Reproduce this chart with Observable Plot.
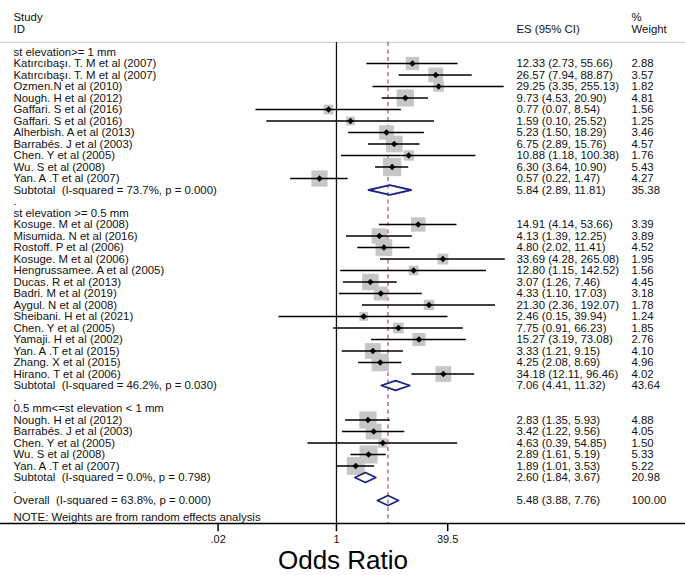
<!DOCTYPE html>
<html><head><meta charset="utf-8">
<script src="https://cdn.jsdelivr.net/npm/d3@7"></script>
<script src="https://cdn.jsdelivr.net/npm/@observablehq/plot@0.6"></script>
<style>body{margin:0;background:#fff} svg{display:block}</style>
</head><body><div id="chart"></div>
<script>
// ---- data ----
const groupTitles = ["st elevation>= 1 mm", "st elevation >= 0.5 mm", "0.5 mm<=st elevation < 1 mm"];

const studies1 = ["Katırcıbaşı. T. M et al (2007)", "Katırcıbaşı. T. M et al (2007)", "Ozmen.N et al (2010)", "Nough. H et al (2012)", "Gaffari. S et al (2016)", "Gaffari. S et al (2016)", "Alherbish. A et al (2013)", "Barrabés. J et al (2003)", "Chen. Y et al (2005)", "Wu. S et al (2008)", "Yan. A .T et al (2007)"];
const es1 = [12.33, 26.57, 29.25, 9.73, 0.77, 1.59, 5.23, 6.75, 10.88, 6.30, 0.57];
const lo1 = [2.73, 7.94, 3.35, 4.53, 0.07, 0.10, 1.50, 2.89, 1.18, 3.64, 0.22];
const hi1 = [55.66, 88.87, 255.13, 20.90, 8.54, 25.52, 18.29, 15.76, 100.38, 10.90, 1.47];
const w1 = [2.88, 3.57, 1.82, 4.81, 1.56, 1.25, 3.46, 4.57, 1.76, 5.43, 4.27];

const studies2 = ["Kosuge. M et al (2008)", "Misumida. N et al (2016)", "Rostoff. P et al (2006)", "Kosuge. M et al (2006)", "Hengrussamee. A et al (2005)", "Ducas. R et al (2013)", "Badri. M et al (2019)", "Aygul. N et al (2008)", "Sheibani. H et al (2021)", "Chen. Y et al (2005)", "Yamaji. H et al (2002)", "Yan. A .T et al (2015)", "Zhang. X et al (2015)", "Hirano. T et al (2006)"];
const es2 = [14.91, 4.13, 4.80, 33.69, 12.80, 3.07, 4.33, 21.30, 2.46, 7.75, 15.27, 3.33, 4.25, 34.18];
const lo2 = [4.14, 1.39, 2.02, 4.28, 1.15, 1.26, 1.10, 2.36, 0.15, 0.91, 3.19, 1.21, 2.08, 12.11];
const hi2 = [53.66, 12.25, 11.41, 265.08, 142.52, 7.46, 17.03, 192.07, 39.94, 66.23, 73.08, 9.15, 8.69, 96.46];
const w2 = [3.39, 3.89, 4.52, 1.95, 1.56, 4.45, 3.18, 1.78, 1.24, 1.85, 2.76, 4.10, 4.96, 4.02];

const studies3 = ["Nough. H et al (2012)", "Barrabés. J et al (2003)", "Chen. Y et al (2005)", "Wu. S et al (2008)", "Yan. A .T et al (2007)"];
const es3 = [2.83, 3.42, 4.63, 2.89, 1.89];
const lo3 = [1.35, 1.22, 0.39, 1.61, 1.01];
const hi3 = [5.93, 9.56, 54.85, 5.19, 3.53];
const w3 = [4.88, 4.05, 1.50, 5.33, 5.22];

const subtotalLabels = ["Subtotal\u00a0 (I-squared = 73.7%, p = 0.000)", "Subtotal\u00a0 (I-squared = 46.2%, p = 0.030)", "Subtotal\u00a0 (I-squared = 0.0%, p = 0.798)"];
const subtotalES = [5.84, 7.06, 2.60];
const subtotalLo = [2.89, 4.41, 1.84];
const subtotalHi = [11.81, 11.32, 3.67];
const subtotalW = [35.38, 43.64, 20.98];

const overallLabel = "Overall\u00a0 (I-squared = 63.8%, p = 0.000)";
const overallES = 5.48, overallLo = 3.88, overallHi = 7.76, overallW = 100.00;

const xTicks = [0.02, 1, 39.5];
const xTickLabels = [".02", "1", "39.5"];
const axisTitle = "Odds Ratio";
const headerStudy = ["Study", "ID"];
const headerES = "ES (95% CI)";
const headerWeight = ["%", "Weight"];
const noteText = "NOTE: Weights are from random effects analysis";

// ---- table construction ----
const groups = [
  {names: studies1, es: es1, lo: lo1, hi: hi1, w: w1},
  {names: studies2, es: es2, lo: lo2, hi: hi2, w: w2},
  {names: studies3, es: es3, lo: lo3, hi: hi3, w: w3}
];
const labelRows = [], studyRows = [], pooledRows = [];
let r = 0;
groups.forEach((g, gi) => {
  labelRows.push({row: r++, label: groupTitles[gi]});
  g.names.forEach((n, i) => {
    const d = {row: r++, label: n, es: g.es[i], lo: g.lo[i], hi: g.hi[i], w: g.w[i]};
    studyRows.push(d); labelRows.push(d);
  });
  const s = {row: r++, label: subtotalLabels[gi], es: subtotalES[gi], lo: subtotalLo[gi], hi: subtotalHi[gi], w: subtotalW[gi]};
  pooledRows.push(s); labelRows.push(s);
  labelRows.push({row: r++, label: "."});
});
const ov = {row: r, label: overallLabel, es: overallES, lo: overallLo, hi: overallHi, w: overallW};
pooledRows.push(ov); labelRows.push(ov);
const lastRow = r;

const numRows = studyRows.concat(pooledRows).map(d => ({
  row: d.row,
  esText: `${d.es.toFixed(2)} (${d.lo.toFixed(2)}, ${d.hi.toFixed(2)})`,
  wText: d.w.toFixed(2)
}));

const dh = 0.43;
const diamonds = pooledRows.flatMap((d, i) => [
  {id: i, x: d.lo, y: d.row}, {id: i, x: d.es, y: d.row - dh},
  {id: i, x: d.hi, y: d.row}, {id: i, x: d.es, y: d.row + dh},
  {id: i, x: d.lo, y: d.row}
]);

const tickData = xTicks.map((v, i) => ({v, label: xTickLabels[i]}));

// layout rows (in row units)
const studyHdrRow = -3, idHdrRow = -1.98, ruleRow = -0.83, noteRow = lastRow + 1.45, axisRow = lastRow + 2;
const fontFam = "Liberation Sans, Arial, Helvetica, sans-serif";
const fs = 11.4;
const xText = 13, xES = 516, xW = 631;

const chart = Plot.plot({
  width: 685, height: 575,
  marginLeft: 0, marginRight: 0, marginTop: 0, marginBottom: 52,
  style: {fontFamily: fontFam, background: "#fff", color: "#111"},
  x: {type: "log", domain: [xTicks[0], xTicks[2]], range: [217.6, 447.2], axis: null},
  y: {domain: [0, lastRow], range: [51.5, 500], axis: null},
  r: {type: "sqrt", domain: [0, d3.max(studyRows, d => d.w)], range: [0, 10.3]},
  marks: [
    Plot.ruleY([ruleRow], {stroke: "#dcd0d4", strokeWidth: 1.2}),
    Plot.ruleX([1], {y1: ruleRow, y2: axisRow, stroke: "#111", strokeWidth: 1.3}),
    Plot.ruleX([overallES], {y1: ruleRow, y2: axisRow, stroke: "#b53a44", strokeWidth: 1.1, strokeDasharray: "4,3.5"}),
    Plot.dot(studyRows, {x: "es", y: "row", r: "w", symbol: "square", fill: "#c6c6c6", stroke: "none"}),
    Plot.ruleY(studyRows, {x1: "lo", x2: "hi", y: "row", stroke: "#000", strokeWidth: 1.6}),
    Plot.dot(studyRows, {x: "es", y: "row", r: 2.9, symbol: "diamond2", fill: "#000", stroke: "none"}),
    Plot.line(diamonds, {x: "x", y: "y", z: "id", stroke: "#1c2585", strokeWidth: 1.8, curve: "linear"}),
    Plot.ruleY([axisRow], {stroke: "#000", strokeWidth: 1.5}),
    Plot.ruleX(tickData, {x: "v", y1: axisRow, y2: axisRow + 0.72, stroke: "#000", strokeWidth: 1.5}),
    Plot.text(tickData, {x: "v", y: () => axisRow + 1.42, text: "label", fontSize: 11, lineAnchor: "middle"}),
    // left column
    Plot.text(labelRows, {y: "row", text: "label", frameAnchor: "left", dx: xText, textAnchor: "start", fontSize: fs}),
    Plot.text(headerStudy.map((t, i) => ({row: [studyHdrRow, idHdrRow][i], t})), {y: "row", text: "t", frameAnchor: "left", dx: xText, textAnchor: "start", fontSize: fs}),
    // ES column
    Plot.text([{row: idHdrRow, t: headerES}], {y: "row", text: "t", frameAnchor: "left", dx: xES, textAnchor: "start", fontSize: fs}),
    Plot.text(numRows, {y: "row", text: "esText", frameAnchor: "left", dx: xES, textAnchor: "start", fontSize: fs}),
    // weight column
    Plot.text(headerWeight.map((t, i) => ({row: [studyHdrRow, idHdrRow][i], t})), {y: "row", text: "t", frameAnchor: "left", dx: xW, textAnchor: "start", fontSize: fs}),
    Plot.text(numRows, {y: "row", text: "wText", frameAnchor: "left", dx: xW, textAnchor: "start", fontSize: fs}),
    // note
    Plot.text([{row: noteRow, t: noteText}], {y: "row", text: "t", frameAnchor: "left", dx: xText, textAnchor: "start", fontSize: fs}),
    // axis title
    Plot.text([axisTitle], {frameAnchor: "bottom", dy: 37, fontSize: 26, lineAnchor: "middle", fill: "#000"})
  ]
});
document.getElementById("chart").appendChild(chart);
</script>
</body></html>
